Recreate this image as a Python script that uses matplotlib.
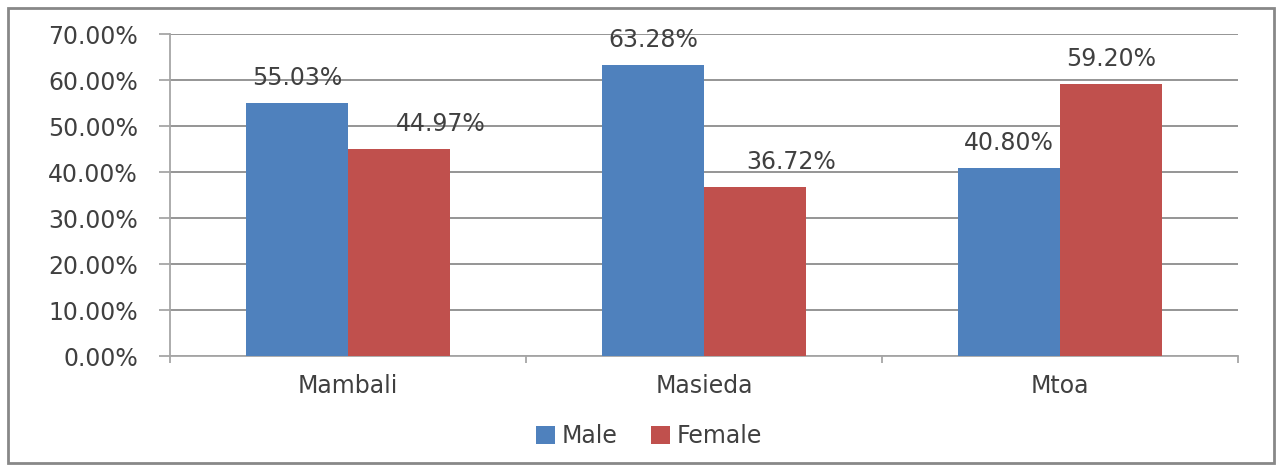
import numpy as np
import matplotlib.pyplot as plt
from matplotlib.patches import Rectangle

# data
sites = ['Mambali', 'Masieda', 'Mtoa']
male = [55.03, 63.28, 40.80]
female = [44.97, 36.72, 59.20]
yticks = [0, 10, 20, 30, 40, 50, 60, 70]

blue = '#4F81BD'
red = '#C0504D'
txt = '#404040'
grid = '#8C8C8C'
axc = '#A6A6A6'
fs = 17

fig = plt.figure(figsize=(12.78, 4.66), dpi=100)
ax = fig.add_axes([170/1278, 1-356/466, 1068/1278, 322/466])

x = np.arange(len(sites))
w = 0.287
ax.bar(x - w, male, w, align='edge', color=blue, label='Male', zorder=3)
ax.bar(x, female, w, align='edge', color=red, label='Female', zorder=3)

ax.set_xlim(-0.5, 2.5)
ax.set_ylim(0, 70)
ax.set_yticks(yticks)
ax.set_yticklabels(['%.2f%%' % v for v in yticks], fontsize=fs, color=txt)
ax.set_xticks(x)
ax.set_xticklabels(sites, fontsize=fs, color=txt)
ax.tick_params(axis='x', length=0, pad=13)
ax.tick_params(axis='y', length=8, width=1.3, color=axc, pad=15)
ax.set_xticks(np.arange(-0.5, 3, 1), minor=True)
ax.tick_params(axis='x', which='minor', length=5, width=1.3, color=axc)

ax.yaxis.grid(True, color=grid, linewidth=1.3, zorder=0)
for s in ['top', 'right']:
    ax.spines[s].set_visible(False)
for s in ['left', 'bottom']:
    ax.spines[s].set_color(axc)
    ax.spines[s].set_linewidth(1.3)

# data labels (Excel pushes some red labels to the right)
male_dx = [0, 0, 0]
female_dx = [42, 36, 0]
for i in range(len(sites)):
    ax.annotate('%.2f%%' % male[i], (x[i] - w/2, male[i]), xytext=(male_dx[i], 25),
                textcoords='offset pixels', ha='center', va='center', fontsize=fs, color=txt)
    ax.annotate('%.2f%%' % female[i], (x[i] + w/2, female[i]), xytext=(female_dx[i], 25),
                textcoords='offset pixels', ha='center', va='center', fontsize=fs, color=txt)

fig.legend(loc='center', bbox_to_anchor=(0.508, 1-436/466), ncol=2, frameon=False,
           fontsize=fs, handlelength=0.8, handleheight=0.8, handletextpad=0.3,
           columnspacing=1.4, labelcolor=txt)

# outer border
fig.patches.append(Rectangle((8/1278, 3/466), 1266/1278, 455/466, transform=fig.transFigure,
                             fill=False, edgecolor='#888888', linewidth=2))

fig.savefig('out.png', dpi=100)
